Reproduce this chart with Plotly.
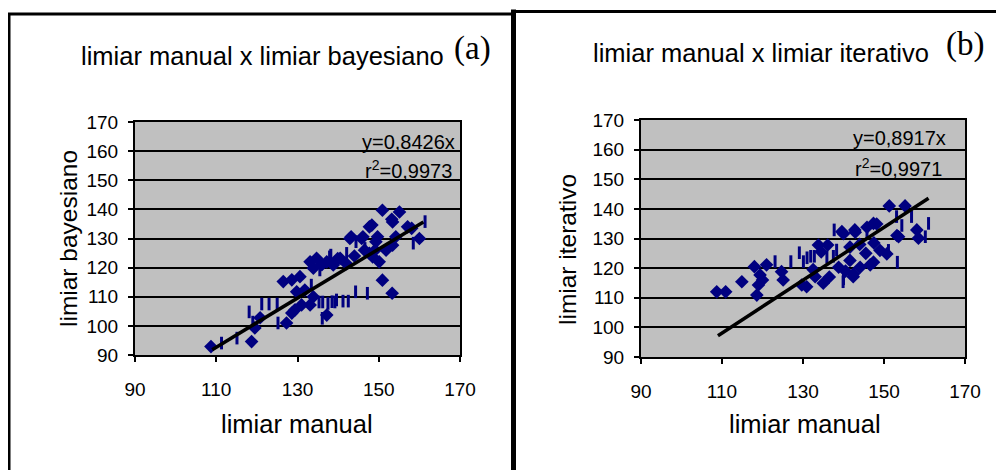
import plotly.graph_objects as go

W, H = 1004, 470
OFF = 8  # page body margin: figure is drawn 8px right and down

# ---------------- data: chart (a) manual x bayesiano ----------------
a_diam_x = [108.7, 118.7, 119.5, 120.8, 127.3, 128.6, 129.4, 131.0, 133.1, 133.9, 129.8, 131.8,
            126.5, 128.6, 130.6, 133.9, 133.1, 134.7, 137.2, 138.8, 137.2, 136.0, 139.9, 142.0,
            143.2, 146.1, 147.7, 146.5, 148.5, 149.7, 150.9, 153.4, 155.1, 151.8, 150.1, 150.9,
            153.3, 153.4, 154.2, 157.1, 160.0, 149.3, 147.7, 144.0, 142.9, 140.5, 145.8, 148.3,
            158.1, 149.1, 153.2]
a_diam_y = [92.9, 94.6, 99.3, 102.8, 101.0, 104.4, 105.5, 107.2, 107.2, 110.0, 111.7, 112.3,
            115.2, 115.8, 116.9, 119.8, 122.0, 123.2, 122.0, 120.9, 103.7, 121.0, 123.1, 121.4,
            130.6, 130.6, 134.0, 126.0, 123.7, 130.6, 139.7, 135.7, 139.1, 126.0, 122.0, 115.7,
            111.2, 127.7, 130.6, 134.0, 130.0, 128.9, 124.9, 124.0, 130.0, 123.2, 130.0, 134.6,
            133.5, 126.0, 136.6]
a_bar_x = [111.3, 115.1, 118.1, 119.0, 121.2, 123.0, 125.0, 125.2, 135.3, 136.2, 136.1, 137.5,
           138.5, 139.2, 139.6, 141.2, 142.5, 144.3, 147.2, 135.5, 138.2, 137.9, 142.1, 144.4,
           146.6, 158.5, 161.4, 133.4]
a_bar_y = [94.1, 95.8, 104.8, 101.3, 107.5, 107.5, 107.5, 101.0, 108.2, 108.2, 102.6, 107.7,
           108.3, 108.2, 108.9, 108.5, 108.5, 111.7, 111.2, 119.2, 124.3, 123.7, 124.9, 128.9,
           126.6, 128.4, 135.8, 114.0]
a_slope = 0.8426
a_eq = "y=0,8426x"
a_r2 = "0,9973"

# ---------------- data: chart (b) manual x iterativo ----------------
b_diam_x = [108.7, 110.9, 114.9, 118.0, 121.0, 119.4, 119.0, 118.6, 120.0, 124.7, 125.1, 129.7,
            130.9, 133.8, 136.1, 134.5, 133.0, 135.0, 136.5, 132.5, 138.8, 139.6, 140.0, 142.8,
            142.9, 141.6, 141.6, 142.5, 142.4, 144.1, 146.6, 145.8, 147.4, 148.2, 147.4, 149.0,
            147.5, 151.3, 155.2, 153.6, 153.2, 158.1, 158.5, 150.7, 144.0, 145.5, 140.5]
b_diam_y = [112.0, 112.0, 115.4, 120.5, 121.1, 117.7, 114.3, 110.9, 116.0, 118.8, 116.0, 114.3,
            113.7, 127.8, 127.8, 125.5, 117.1, 114.9, 117.0, 119.5, 120.3, 132.3, 131.6, 132.9,
            132.1, 127.1, 122.6, 118.1, 117.1, 120.3, 121.1, 133.8, 135.1, 134.9, 122.0, 126.0,
            128.5, 141.0, 141.0, 130.6, 131.0, 132.9, 130.1, 124.8, 128.0, 125.0, 119.0]
b_bar_x = [123.1, 127.0, 129.1, 130.1, 131.0, 131.9, 132.8, 135.9, 137.7, 138.3, 137.5, 140.0,
           139.9, 145.8, 151.1, 153.3, 153.1, 154.4, 156.8, 161.0, 160.2]
b_bar_y = [122.2, 122.2, 125.2, 122.2, 123.5, 124.0, 124.0, 123.7, 132.9, 126.1, 124.0, 116.4,
           115.4, 132.0, 126.0, 122.0, 137.4, 134.4, 137.4, 135.1, 130.6]
b_slope = 0.8917
b_eq = "y=0,8917x"
b_r2 = "0,9971"

trend_x = [109, 161]

x_ticks = [90, 110, 130, 150, 170]
y_ticks = [90, 100, 110, 120, 130, 140, 150, 160, 170]

NAVY = "#000080"
FONT = "Liberation Sans, Arial, sans-serif"
NARROW = "Liberation Sans Narrow, Arial Narrow, Liberation Sans, sans-serif"
SERIF = "Liberation Serif, Times New Roman, serif"


def px(x):
    return (x - OFF) / W


def py(y):
    return 1 - (y - OFF) / H


fig = go.Figure()

panels = [
    dict(dx=a_diam_x, dy=a_diam_y, bx=a_bar_x, by=a_bar_y, slope=a_slope, xa="x", ya="y"),
    dict(dx=b_diam_x, dy=b_diam_y, bx=b_bar_x, by=b_bar_y, slope=b_slope, xa="x2", ya="y2"),
]
for p in panels:
    fig.add_trace(go.Scatter(x=p["bx"], y=p["by"], mode="markers", xaxis=p["xa"], yaxis=p["ya"],
                             marker=dict(symbol="line-ns", size=9, line=dict(color=NAVY, width=3)),
                             showlegend=False, hoverinfo="skip"))
    fig.add_trace(go.Scatter(x=p["dx"], y=p["dy"], mode="markers", xaxis=p["xa"], yaxis=p["ya"],
                             marker=dict(symbol="diamond", size=10.5, color=NAVY, line=dict(width=0)),
                             showlegend=False, hoverinfo="skip"))
    fig.add_trace(go.Scatter(x=trend_x, y=[p["slope"] * v for v in trend_x], mode="lines",
                             xaxis=p["xa"], yaxis=p["ya"], line=dict(color="black", width=3.5),
                             showlegend=False, hoverinfo="skip"))

axis_common = dict(zeroline=False, showline=True, linecolor="black", linewidth=2, mirror=True,
                   ticks="outside", ticklen=5, tickwidth=1.5, tickcolor="black", automargin=False,
                   tickfont=dict(family=NARROW, size=19, color="black"))
xaxis_common = dict(showgrid=False, range=[90, 170], tickvals=x_ticks, ticklabelstandoff=11, **axis_common)
yaxis_common = dict(showgrid=True, gridcolor="black", gridwidth=1.8, range=[90, 170], tickvals=y_ticks,
                    ticklabelstandoff=6, **axis_common)

fig.update_layout(
    width=W, height=H, margin=dict(l=0, r=0, t=0, b=0),
    paper_bgcolor="white", plot_bgcolor="#C0C0C0",
    xaxis=dict(domain=[px(135), px(460)], anchor="y", **xaxis_common),
    yaxis=dict(domain=[py(355), py(122)], anchor="x", **yaxis_common),
    xaxis2=dict(domain=[px(641), px(965)], anchor="y2", **xaxis_common),
    yaxis2=dict(domain=[py(357), py(120)], anchor="x2", **yaxis_common),
)

txt = dict(family=FONT, color="black")
ann = [
    dict(text="limiar manual x limiar bayesiano", x=px(262), y=py(56), font=dict(size=25.5, **txt)),
    dict(text="limiar manual x limiar iterativo", x=px(761), y=py(53), font=dict(size=25.5, **txt)),
    dict(text="(a)", x=px(472), y=py(48), font=dict(size=33, family=SERIF, color="black")),
    dict(text="(b)", x=px(965), y=py(44), font=dict(size=33, family=SERIF, color="black")),
    dict(text="limiar manual", x=px(297), y=py(424), font=dict(size=25.5, **txt)),
    dict(text="limiar manual", x=px(805), y=py(424), font=dict(size=25.5, **txt)),
    dict(text="limiar bayesiano", x=px(68), y=py(239), textangle=-90, font=dict(size=24.5, **txt)),
    dict(text="limiar iterativo", x=px(568), y=py(250), textangle=-90, font=dict(size=24.5, **txt)),
    dict(text=a_eq, x=px(457), y=py(142), xanchor="right", font=dict(size=20, **txt)),
    dict(text="r<sup>2</sup>=" + a_r2, x=px(454), y=py(170), xanchor="right", font=dict(size=20, **txt)),
    dict(text=b_eq, x=px(948), y=py(138), xanchor="right", font=dict(size=20, **txt)),
    dict(text="r<sup>2</sup>=" + b_r2, x=px(944), y=py(167), xanchor="right", font=dict(size=20, **txt)),
]
for a in ann:
    a.setdefault("xanchor", "center")
    a.update(xref="paper", yref="paper", yanchor="middle", showarrow=False)

# panel borders (screen pixels)
shapes = [
    dict(type="line", x0=px(7), x1=px(513), y0=py(14), y1=py(14), line=dict(color="black", width=3)),
    dict(type="line", x0=px(9), x1=px(9), y0=py(13), y1=py(490), line=dict(color="black", width=3)),
    dict(type="line", x0=px(513.5), x1=px(513.5), y0=py(9.5), y1=py(490), line=dict(color="black", width=5)),
    dict(type="line", x0=px(512), x1=px(1020), y0=py(11.5), y1=py(11.5), line=dict(color="black", width=3)),
]
for s in shapes:
    s.update(xref="paper", yref="paper", layer="above")
fig.update_layout(shapes=shapes, annotations=ann)

fig.write_html("out.html")
